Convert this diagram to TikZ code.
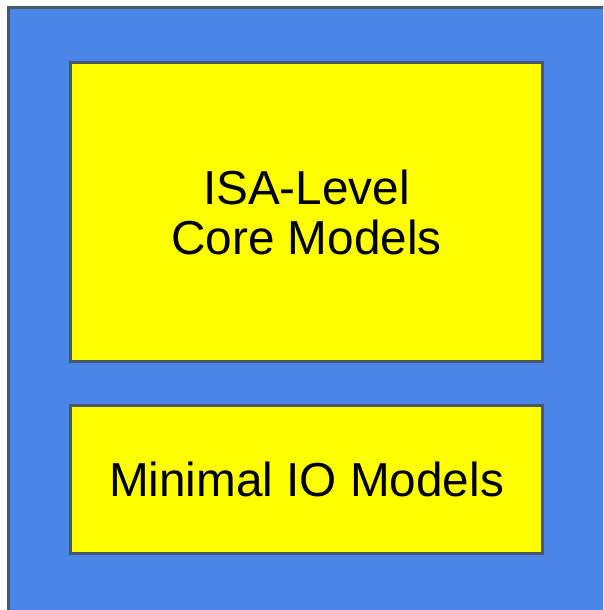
\documentclass[tikz,border=0pt]{standalone}
\usepackage{fontspec}
\setmainfont{Liberation Sans}
\definecolor{panelblue}{RGB}{74,134,232}
\definecolor{edgegray}{RGB}{72,88,108}
\definecolor{boxyellow}{RGB}{255,255,0}
\begin{document}
\begin{tikzpicture}[x=1pt,y=-1pt,
  panel/.style={fill=panelblue,draw=edgegray,line width=2.5pt},
  modelbox/.style={fill=boxyellow,draw=edgegray,line width=2.5pt},
  label/.style={font=\fontsize{47.7}{50}\selectfont,align=center,text=black}]
  \useasboundingbox (0,0) rectangle (603,610);
  \clip (0,0) rectangle (603,610);
  \fill[white] (0,0) rectangle (603,610);
  % outer platform panel, running off the right and bottom edges
  \draw[panel] (8.5,7.5) rectangle (640,640);
  % inner model blocks
  \draw[modelbox] (70.5,62.5) rectangle (542.5,361.5);
  \draw[modelbox] (70.5,405.5) rectangle (542.5,553.5);
  \node[label] (core) at (306.5,212) {ISA-Level\\Core Models};
  \node[label] (io) at (306.5,479.5) {Minimal IO Models};
\end{tikzpicture}
\end{document}
